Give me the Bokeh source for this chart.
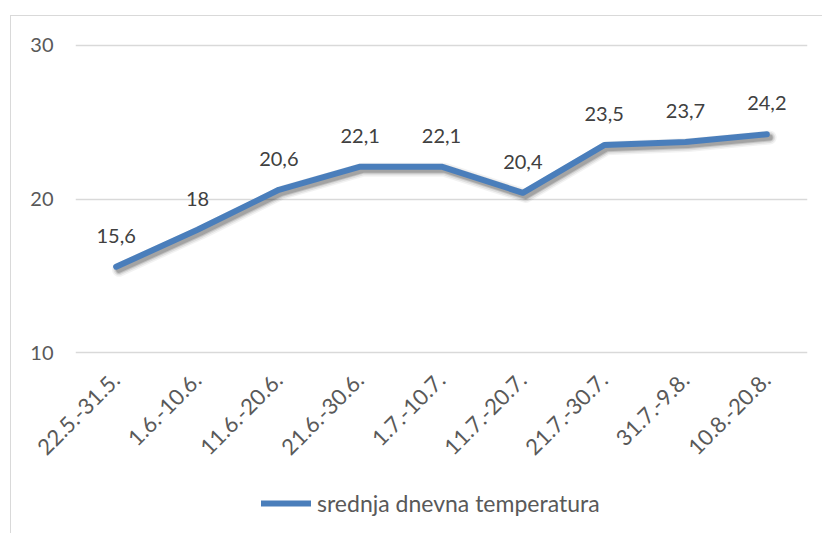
from bokeh.plotting import figure
from bokeh.layouts import column
from bokeh.models import (FactorRange, Range1d, ColumnDataSource, Legend, LegendItem,
                          FixedTicker, LabelSet, InlineStyleSheet)
from bokeh.transform import dodge
from bokeh.core.properties import value
from bokeh.embed import file_html
from bokeh.resources import INLINE
from math import pi

# ---- data ----
categories = ["22.5.-31.5.", "1.6.-10.6.", "11.6.-20.6.", "21.6.-30.6.", "1.7.-10.7.",
              "11.7.-20.7.", "21.7.-30.7.", "31.7.-9.8.", "10.8.-20.8."]
temperature = [15.6, 18, 20.6, 22.1, 22.1, 20.4, 23.5, 23.7, 24.2]
y_ticks = [10, 20, 30]
series_name = "srednja dnevna temperatura"

value_labels = [f"{v:g}".replace(".", ",") for v in temperature]
src = ColumnDataSource(dict(cat=categories, val=temperature, lab=value_labels))

FONT = "Lato"
LINE_COLOR = "#4a7ebb"
BORDER = "#d9d9d9"

p = figure(width=822, height=480,
           x_range=FactorRange(*categories, range_padding=0),
           y_range=Range1d(9.9, 30.1),
           output_backend="svg", toolbar_location=None,
           min_border_left=75, min_border_right=15,
           min_border_top=43, min_border_bottom=126)
p.outline_line_color = None
p.background_fill_color = "white"
p.border_fill_color = "white"

# chart-area border (left and top edges visible in the crop)
p.stylesheets = [InlineStyleSheet(css=(
    ":host::after{content:'';position:absolute;left:10px;top:15px;right:0;bottom:0;"
    f"border-left:1.5px solid {BORDER};border-top:1.5px solid {BORDER};"
    "pointer-events:none;box-sizing:border-box;}"))]

# axes
p.yaxis.ticker = FixedTicker(ticks=y_ticks)
p.yaxis.axis_line_color = None
p.yaxis.major_tick_line_color = None
p.yaxis.minor_tick_line_color = None
p.yaxis.major_tick_out = 0
p.yaxis.major_tick_in = 0
p.yaxis.major_label_standoff = 22
p.yaxis.major_label_text_font = FONT
p.yaxis.major_label_text_font_size = "20px"
p.yaxis.major_label_text_color = "#595959"

p.xaxis.axis_line_color = None
p.xaxis.major_tick_line_color = None
p.xaxis.major_tick_out = 0
p.xaxis.major_tick_in = 0
p.xaxis.major_label_orientation = pi / 4
p.xaxis.major_label_standoff = 22
p.xaxis.major_label_text_font = FONT
p.xaxis.major_label_text_font_size = "22px"
p.xaxis.major_label_text_color = "#595959"

p.xgrid.grid_line_color = None
p.ygrid.grid_line_color = BORDER
p.ygrid.grid_line_width = 1.5

# shadow
for w, a in [(14, 0.05), (11, 0.08), (8, 0.12), (6, 0.16)]:
    p.line(x=dodge("cat", 0.035, range=p.x_range), y=dodge("val", -0.2), source=src,
           line_width=w, line_color="black", line_alpha=a,
           line_join="round", line_cap="round")

main = p.line(x="cat", y="val", source=src, line_width=6, line_color=LINE_COLOR,
              line_join="round", line_cap="round")

p.add_layout(LabelSet(x="cat", y="val", text="lab", source=src, y_offset=31,
                      text_align="center", text_baseline="middle",
                      text_font=value(FONT), text_font_size="20px",
                      text_color="#404040"))

# ---- legend strip below the chart ----
pl = figure(width=822, height=53, output_backend="svg", toolbar_location=None,
            x_range=FactorRange(*categories), y_range=Range1d(0, 1),
            x_axis_location=None, y_axis_location=None,
            min_border_left=0, min_border_right=0, min_border_top=0, min_border_bottom=0)
pl.outline_line_color = None
pl.xgrid.grid_line_color = None
pl.ygrid.grid_line_color = None
pl.stylesheets = [InlineStyleSheet(css=(
    ":host::after{content:'';position:absolute;left:10px;top:0;right:0;bottom:0;"
    f"border-left:1.5px solid {BORDER};pointer-events:none;box-sizing:border-box;}}"))]
# same series, outside this strip's visible range: only its legend sample shows
legend_line = pl.line(x="cat", y="val", source=src, line_width=6,
                      line_color=LINE_COLOR, line_cap="round")

legend = Legend(items=[LegendItem(label=series_name, renderers=[legend_line])],
                location=(186, 16), orientation="horizontal",
                glyph_width=50, glyph_height=20, label_standoff=6,
                padding=0, margin=0, border_line_color=None,
                background_fill_alpha=0,
                label_text_font=FONT, label_text_font_size="23px",
                label_text_color="#595959")
pl.add_layout(legend, "center")

layout = column(p, pl, spacing=0)
open("out.html", "w").write(file_html(layout, INLINE))
